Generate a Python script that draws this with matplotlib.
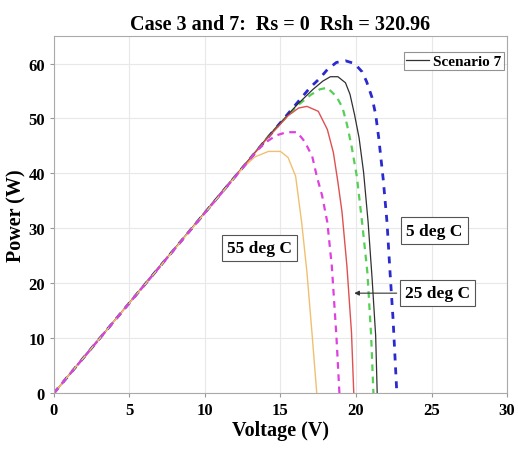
import matplotlib
matplotlib.use("Agg")
import matplotlib.pyplot as plt

plt.rcParams["font.family"] = ["Liberation Serif", "DejaVu Serif"]
plt.rcParams["font.weight"] = "bold"

# 5 deg C (blue dashed)
v_5 = [0, 14.0, 16.0, 16.95, 17.6, 18.1, 18.7, 19.3, 19.9, 20.4, 20.7, 21.06, 21.3, 21.5, 21.8, 22.05, 22.25, 22.45, 22.7]
p_5 = [0, 46.0, 52.5, 55.6, 57.3, 58.9, 60.2, 60.5, 60.0, 58.5, 56.7, 53.8, 50.7, 46.5, 38.9, 31.1, 22.0, 13.5, 0]

# Scenario 7 (black solid)
v_s7 = [0, 14.3, 16.1, 17.15, 17.8, 18.3, 18.8, 19.3, 19.6, 19.9, 20.2, 20.5, 20.8, 21.06, 21.3, 21.4]
p_s7 = [0, 47.1, 52.5, 55.3, 56.8, 57.6, 57.6, 56.5, 54.4, 50.7, 46.5, 40.2, 31.1, 21.0, 10.4, 0]

# green dashed
v_g = [0, 14.3, 16.1, 17.0, 17.6, 18.1, 18.7, 19.1, 19.4, 19.7, 20.05, 20.4, 20.75, 21.0, 21.15]
p_g = [0, 47.1, 52.3, 54.3, 55.3, 55.6, 54.0, 52.0, 48.9, 45.0, 39.5, 31.1, 22.0, 10.4, 0]

# 25 deg C (red solid)
v_25 = [0, 14.0, 15.5, 16.2, 16.75, 17.5, 18.1, 18.5, 18.8, 19.07, 19.4, 19.7, 19.85]
p_25 = [0, 46.0, 50.5, 51.9, 52.2, 51.3, 48.0, 43.8, 38.4, 33.0, 23.0, 11.0, 0]

# magenta dashed
v_m = [0, 13.5, 14.1, 14.7, 15.4, 16.1, 16.6, 17.1, 17.4, 17.75, 18.1, 18.4, 18.7, 18.9]
p_m = [0, 44.3, 45.8, 46.9, 47.5, 47.5, 45.8, 43.1, 39.5, 36.0, 31.1, 23.0, 10.4, 0]

# 55 deg C (orange solid)
v_55 = [0, 12.5, 13.3, 14.2, 15.0, 15.5, 16.0, 16.4, 16.75, 17.1, 17.4]
p_55 = [0, 41.0, 43.0, 44.0, 44.0, 42.9, 39.5, 31.1, 22.0, 10.4, 0]

fig = plt.figure(figsize=(5.18, 4.52), dpi=100)
ax = fig.add_axes([0.104, 0.128, 0.875, 0.79])

ax.plot(v_5, p_5, color="#2a2ad0", ls=(0, (2.5, 2.5)), lw=2.0)
ax.plot(v_g, p_g, color="#55d055", ls=(0, (3, 2.5)), lw=1.6)
ax.plot(v_s7, p_s7, color="#303030", lw=0.9, label="Scenario 7")
ax.plot(v_25, p_25, color="#e05050", lw=1.0)
ax.plot(v_55, p_55, color="#f0c070", lw=1.0)
ax.plot(v_m, p_m, color="#e040e0", ls=(0, (3, 2.5)), lw=1.6)

ax.set_xlim(0, 30)
ax.set_ylim(0, 65)
ax.set_xticks(range(0, 31, 5))
ax.set_yticks(range(0, 61, 10))
ax.grid(True, color="#e8e8e8", lw=0.8)
ax.tick_params(labelsize=12, length=3, color="#999999")
for s in ax.spines.values():
    s.set_color("#aaaaaa")

ax.set_xlabel("Voltage (V)", fontsize=14.5, fontweight="bold", labelpad=1)
ax.set_ylabel("Power (W)", fontsize=14.5, fontweight="bold", labelpad=1)
ax.set_title("Case 3 and 7:  Rs = 0  Rsh = 320.96", fontsize=14.5, fontweight="bold", pad=5)

box = dict(boxstyle="square,pad=0.3", fc="white", ec="#555555", lw=0.8)
ax.text(25.2, 29.6, "5 deg C", fontsize=12.5, fontweight="bold", ha="center", va="center", bbox=box)
ax.text(13.6, 26.4, "55 deg C", fontsize=12.5, fontweight="bold", ha="center", va="center", bbox=box)
ax.annotate("25 deg C", xy=(19.7, 18.2), xytext=(25.4, 18.2), fontsize=12.5, fontweight="bold",
            ha="center", va="center", bbox=box,
            arrowprops=dict(arrowstyle="-|>", color="#333333", lw=0.8, mutation_scale=7))

leg = ax.legend(loc="upper right", bbox_to_anchor=(0.993, 0.955), fontsize=11, frameon=True,
                fancybox=False, handlelength=1.5, handletextpad=0.3, borderpad=0.15,
                borderaxespad=0.0)
leg.get_frame().set_edgecolor("#777777")
leg.get_frame().set_linewidth(0.8)

fig.savefig("out.png", dpi=100)
